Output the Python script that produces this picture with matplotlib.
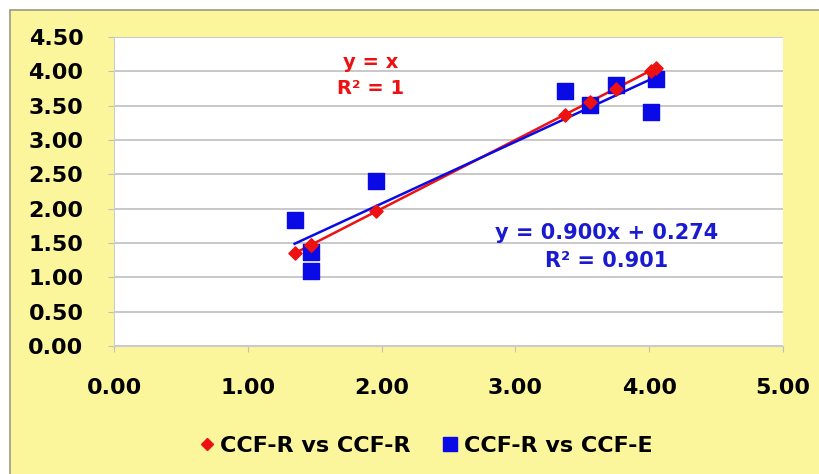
import matplotlib.pyplot as plt
from matplotlib.patches import Rectangle
from matplotlib.lines import Line2D

# CCF-R values (x) and the two comparisons
ccf_r = [1.35, 1.47, 1.47, 1.96, 3.37, 3.56, 3.75, 4.01, 4.05]
ccf_r_vs_r = [1.35, 1.47, 1.47, 1.96, 3.37, 3.56, 3.75, 4.01, 4.05]
ccf_e = [1.83, 1.37, 1.09, 2.40, 3.71, 3.51, 3.80, 3.41, 3.89]

# trendline coefficients as printed on the chart
fit_r = (1.0, 0.0)
fit_e = (0.900, 0.274)

xticks = [0, 1, 2, 3, 4, 5]
yticks = [0, 0.5, 1, 1.5, 2, 2.5, 3, 3.5, 4, 4.5]

RED = '#EE1111'
BLUE = '#0A0AE6'
BLUE_TXT = '#1A1AD0'
YELLOW = '#FBF69C'

plt.rcParams['font.family'] = ['DejaVu Sans']
plt.rcParams['font.weight'] = 'bold'

fig = plt.figure(figsize=(8.2, 4.74), dpi=100)
fig.patches.append(Rectangle((10 / 820, -0.05), 1.0, 1 - 10 / 474 + 0.05,
                             transform=fig.transFigure, facecolor=YELLOW,
                             edgecolor='#9A9A80', linewidth=1.2, zorder=-5))

ax = fig.add_axes([114 / 820, 1 - 346 / 474, 669 / 820, 309 / 474])
ax.set_facecolor('white')

xr = [min(ccf_r), max(ccf_r)]
ax.plot(xr, [fit_r[0] * v + fit_r[1] for v in xr], color=RED, lw=1.8, zorder=3)
ax.plot(xr, [fit_e[0] * v + fit_e[1] for v in xr], color=BLUE, lw=1.8, zorder=3)
ax.scatter(ccf_r, ccf_e, marker='s', s=140, color=BLUE, zorder=4)
ax.scatter(ccf_r, ccf_r_vs_r, marker='D', s=45, color=RED, zorder=5)

ax.set_xlim(0, 5)
ax.set_ylim(0, 4.5)
ax.set_xticks(xticks)
ax.set_yticks(yticks)
ax.set_xticklabels([f'{v:.2f}' for v in xticks])
ax.set_yticklabels([f'{v:.2f}' for v in yticks])
ax.tick_params(axis='x', direction='out', length=4, color='#C0C0C0', pad=19, labelsize=16)
ax.tick_params(axis='y', direction='out', length=4, color='#C0C0C0', pad=18, labelsize=16)
ax.yaxis.grid(True, color='#C4C4C4', lw=1.3)
ax.set_axisbelow(True)
for s in ['top', 'right']:
    ax.spines[s].set_visible(False)
for s in ['left', 'bottom']:
    ax.spines[s].set_color('#CCCCCC')

ax.text(1.92, 4.05, 'y = x', color=RED, fontsize=14, fontweight='bold', ha='center')
ax.text(1.92, 3.67, 'R² = 1', color=RED, fontsize=14, fontweight='bold', ha='center')
ax.text(3.68, 1.56, 'y = 0.900x + 0.274', color=BLUE_TXT, fontsize=15, fontweight='bold', ha='center')
ax.text(3.68, 1.15, 'R² = 0.901', color=BLUE_TXT, fontsize=15, fontweight='bold', ha='center')

handles = [Line2D([], [], marker='D', ls='', color=RED, markersize=6),
           Line2D([], [], marker='s', ls='', color=BLUE, markersize=10)]
fig.legend(handles, ['CCF-R vs CCF-R', 'CCF-R vs CCF-E'], loc='center',
           bbox_to_anchor=(424 / 820, 1 - 446 / 474), ncol=2, frameon=False,
           prop={'weight': 'bold', 'size': 16}, handletextpad=0.1, columnspacing=1.3,
           handlelength=1.0)

fig.savefig('out.png', dpi=100)
